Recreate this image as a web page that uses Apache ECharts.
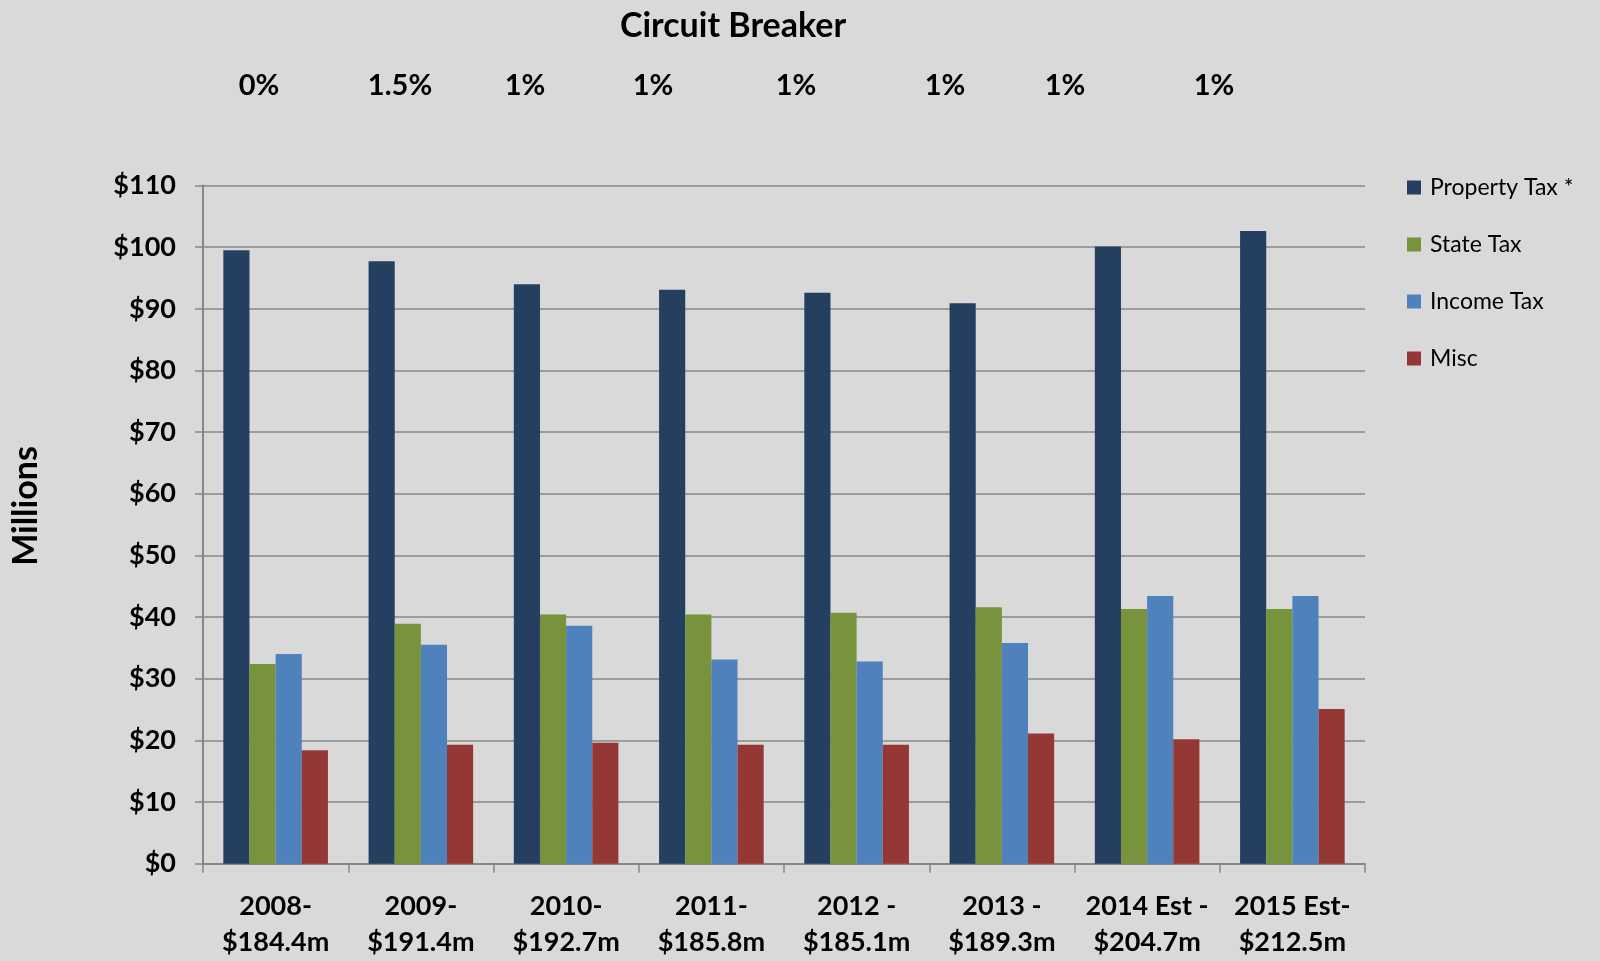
<!DOCTYPE html>
<html>
<head>
<meta charset="utf-8">
<script src="https://cdn.jsdelivr.net/npm/echarts@6/dist/echarts.min.js"></script>
<style>
	html,body{margin:0;padding:0;background:#D9D9D9;}
	#chart{width:1600px;height:961px;}
</style>
</head>
<body>
<div id="chart"></div>
<script>
// categories (year - total)
var categories = ['2008-\n$184.4m','2009-\n$191.4m','2010-\n$192.7m','2011-\n$185.8m',
	'2012 -\n$185.1m','2013 -\n$189.3m','2014 Est -\n$204.7m','2015 Est-\n$212.5m'];

// circuit breaker rate per year
var breakerRates = ['0%','1.5%','1%','1%','1%','1%','1%','1%'];

// values in millions
var propertyTax = [99.5, 97.7, 94.0, 93.1, 92.6, 90.9, 100.1, 102.6];
var stateTax    = [32.4, 38.9, 40.4, 40.4, 40.7, 41.6, 41.3, 41.3];
var incomeTax   = [34.0, 35.5, 38.6, 33.1, 32.8, 35.8, 43.4, 43.4];
var misc        = [18.4, 19.3, 19.6, 19.3, 19.3, 21.1, 20.2, 25.1];

var COLOR = {
	PROPERTY:'#243F60',
	STATE:'#77933C',
	INCOME:'#4F81BD',
	MISC:'#953735',
	GRID:'#878787'
};

var FONT = 'Lato';

// x centers of the rate labels on top (layout only)
var rateLabelX = [259, 400, 525, 653, 796, 945, 1065, 1214];

var myChart = echarts.init(document.getElementById('chart'));

var graphics = [];
for (var i = 0; i < breakerRates.length; i++) {
	graphics.push({
		type:'text',
		x:rateLabelX[i],
		y:86,
		style:{
			text:breakerRates[i],
			font:'bold 29px ' + FONT,
			fill:'#000',
			align:'center',
			verticalAlign:'middle'
		}
	});
}
graphics.push({
	type:'text',
	x:26,
	y:506,
	rotation:Math.PI/2,
	style:{
		text:'Millions',
		font:'bold 34px ' + FONT,
		fill:'#000',
		align:'center',
		verticalAlign:'middle'
	}
});

function barSeries(name, data, color){
	return {
		name:name,
		type:'bar',
		data:data,
		barGap:'0%',
		barCategoryGap:'28%',
		itemStyle:{color:color},
		animation:false
	};
}

myChart.setOption({
	backgroundColor:'#D9D9D9',
	animation:false,
	title:{
		text:'Circuit Breaker',
		left:728,
		top:4,
		textAlign:'center',
		textStyle:{color:'#000',fontFamily:FONT,fontWeight:'bold',fontSize:34}
	},
	legend:{
		orient:'vertical',
		left:1402,
		top:171,
		itemWidth:14,
		itemHeight:14,
		itemGap:34,
		icon:'rect',
		textStyle:{color:'#000',fontFamily:FONT,fontSize:23,lineHeight:23,padding:[0,0,0,4]},
		data:['Property Tax *','State Tax','Income Tax','Misc']
	},
	grid:{
		left:203,
		right:235,
		top:185.5,
		bottom:97.3,
		containLabel:false
	},
	xAxis:{
		type:'category',
		data:categories,
		axisLine:{lineStyle:{color:COLOR.GRID,width:2}},
		axisTick:{show:true,length:9,lineStyle:{color:COLOR.GRID,width:1.5}},
		axisLabel:{
			color:'#000',
			fontFamily:FONT,
			fontWeight:'bold',
			fontSize:27,
			lineHeight:36,
			margin:25,
			interval:0
		}
	},
	yAxis:{
		type:'value',
		min:0,
		max:110,
		interval:10,
		axisLine:{show:true,lineStyle:{color:COLOR.GRID,width:2}},
		axisTick:{show:true,length:8,lineStyle:{color:COLOR.GRID,width:1.5}},
		splitLine:{lineStyle:{color:COLOR.GRID,width:1.5}},
		axisLabel:{
			color:'#000',
			fontFamily:FONT,
			fontWeight:'bold',
			fontSize:27,
			margin:27,
			formatter:function(v){return '$' + v;}
		}
	},
	series:[
		barSeries('Property Tax *', propertyTax, COLOR.PROPERTY),
		barSeries('State Tax', stateTax, COLOR.STATE),
		barSeries('Income Tax', incomeTax, COLOR.INCOME),
		barSeries('Misc', misc, COLOR.MISC)
	],
	graphic:graphics
});
</script>
</body>
</html>
